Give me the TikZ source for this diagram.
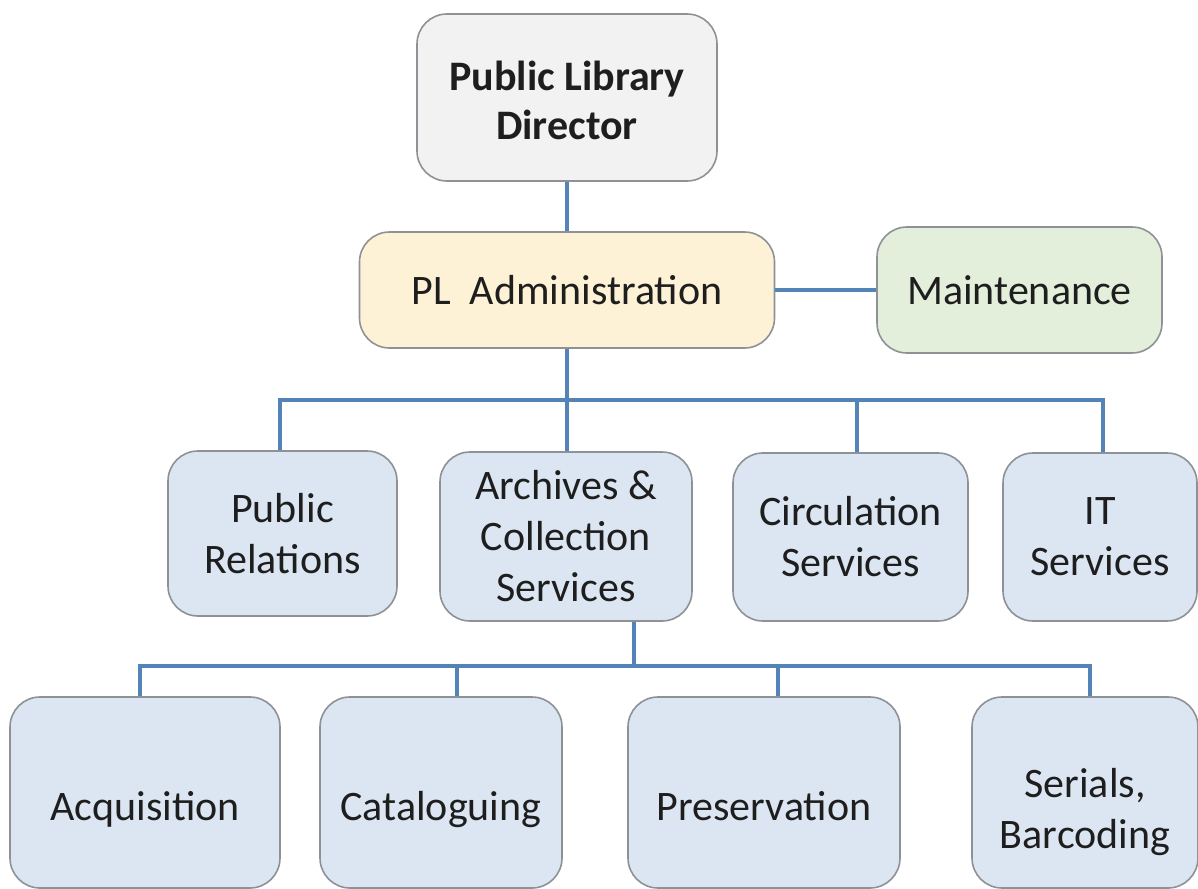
\documentclass[tikz,border=0pt]{standalone}
\usepackage{fontspec}
\setmainfont{Carlito}
\definecolor{boxline}{HTML}{8E9296}
\definecolor{conn}{HTML}{5483B8}
\definecolor{fillgray}{HTML}{F2F2F2}
\definecolor{fillyel}{HTML}{FDF1D6}
\definecolor{fillgrn}{HTML}{E3EEDB}
\definecolor{fillblu}{HTML}{DCE6F2}
\definecolor{txt}{HTML}{1E1E1E}
\newcommand{\lowtext}[2]{\raisebox{-#1}[\height][\depth]{\begin{tabular}{@{}c@{}}#2\end{tabular}}}
\begin{document}
\begin{tikzpicture}[x=1pt,y=-1pt,
  box/.style={draw=boxline, line width=1.6pt, rounded corners=30pt, inner sep=0pt,
    align=center, text=txt, font=\fontsize{42}{51}\selectfont},
  bluebox/.style={box, fill=fillblu},
  link/.style={draw=conn, line width=4.5pt}]
\useasboundingbox (0,0) rectangle (1198,888);
\clip (0,0) rectangle (1198,888);
\fill[white] (0,0) rectangle (1198,888);
% nodes
\node[box, fill=fillgray, minimum width=300pt, minimum height=167pt,
  font=\fontsize{42}{49}\selectfont\bfseries] (dir) at (567,97.5) {\lowtext{8pt}{Public Library\\Director}};
\node[box, fill=fillyel, minimum width=415pt, minimum height=116pt] (adm) at (567,290) {PL\ \ Administration};
\node[box, fill=fillgrn, minimum width=285pt, minimum height=126pt] (mnt) at (1019.5,290) {Maintenance};
\node[bluebox, minimum width=229pt, minimum height=165pt] (pr) at (282.5,533.5) {Public\\Relations};
\node[bluebox, minimum width=252pt, minimum height=169pt] (arc) at (566,536.5) {Archives \&\\Collection\\Services};
\node[bluebox, minimum width=235pt, minimum height=168pt] (cir) at (850.5,537) {Circulation\\Services};
\node[bluebox, minimum width=194pt, minimum height=168pt] (its) at (1100,537) {IT\\Services};
\node[bluebox, minimum width=270pt, minimum height=191pt] (acq) at (145,792.5) {\lowtext{18pt}{Acquisition}};
\node[bluebox, minimum width=242pt, minimum height=191pt] (cat) at (441,792.5) {\lowtext{18pt}{Cataloguing}};
\node[bluebox, minimum width=272pt, minimum height=191pt] (pre) at (764,792.5) {\lowtext{18pt}{Preservation}};
\node[bluebox, minimum width=226pt, minimum height=191pt] (ser) at (1085,792.5) {\lowtext{20pt}{Serials,\\Barcoding}};
% bus coordinates
\coordinate (b1) at (567,400);
\coordinate (b2) at (634,666);
% connectors
\draw[link] (dir.south) -- (adm.north);
\draw[link] (adm.east) -- (mnt.west);
\draw[link] (adm.south) -- (b1);
\draw[link] (pr.north -| 280,0) |- (b1);
\draw[link] (b1) -- (b1 |- arc.north);
\draw[link] (b1) -| (cir.north -| 857,0);
\draw[link] (b1) -| (its.north -| 1103,0);
\draw[link] (arc.south -| 634,0) -- (b2);
\draw[link] (acq.north -| 140,0) |- (b2);
\draw[link] (b2) -| (cat.north -| 457,0);
\draw[link] (b2) -| (pre.north -| 778,0);
\draw[link] (b2) -| (ser.north -| 1090,0);
\end{tikzpicture}
\end{document}
